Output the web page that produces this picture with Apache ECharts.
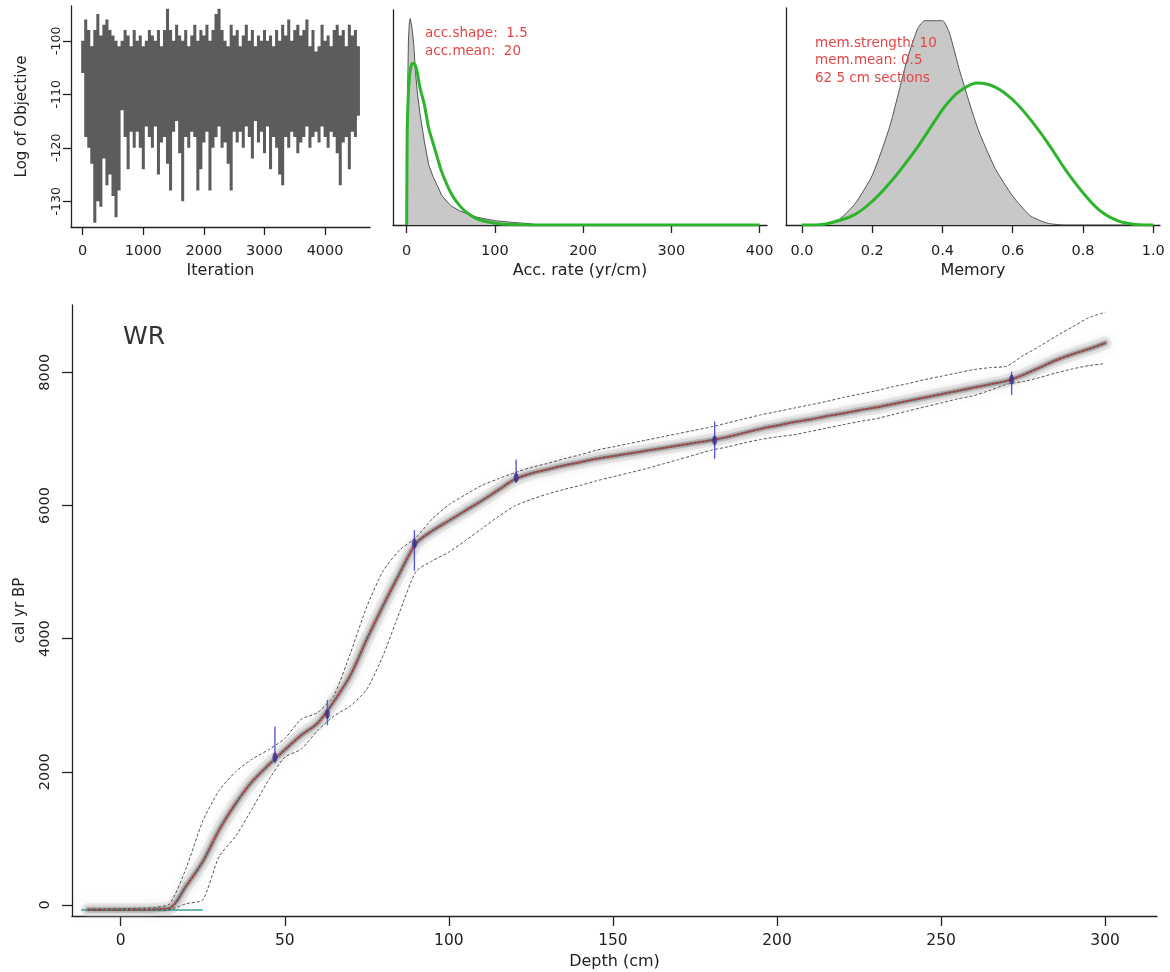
<!DOCTYPE html>
<html><head><meta charset="utf-8">
<script src="https://cdn.jsdelivr.net/npm/echarts@6/dist/echarts.min.js"></script>
<style>html,body{margin:0;padding:0;background:#fff}#c{width:1170px;height:972px}</style>
</head><body><div id="c"></div>
<script>
// ---------- Panel 1: MCMC trace (Log of Objective), binned by 50 iterations ----------
const traceIter = [0,50,100,150,200,250,300,350,400,450,500,550,600,650,700,750,800,850,900,950,1000,1050,1100,1150,1200,1250,1300,1350,1400,1450,1500,1550,1600,1650,1700,1750,1800,1850,1900,1950,2000,2050,2100,2150,2200,2250,2300,2350,2400,2450,2500,2550,2600,2650,2700,2750,2800,2850,2900,2950,3000,3050,3100,3150,3200,3250,3300,3350,3400,3450,3500,3550,3600,3650,3700,3750,3800,3850,3900,3950,4000,4050,4100,4150,4200,4250,4300,4350,4400,4450,4500,4550];
const traceHigh = [-100,-96,-98,-101,-98,-95,-99,-97,-96,-98,-99,-100,-101,-100,-98,-99,-101,-98,-100,-99,-101,-100,-98,-99,-100,-98,-101,-98,-94,-98,-100,-97,-99,-100,-98,-101,-99,-97,-100,-98,-99,-97,-100,-98,-95,-94,-98,-100,-101,-97,-99,-98,-101,-99,-97,-100,-98,-101,-99,-100,-98,-100,-99,-101,-98,-100,-97,-99,-96,-100,-98,-97,-99,-98,-96,-101,-98,-102,-101,-97,-100,-99,-101,-98,-97,-99,-98,-101,-97,-99,-98,-101];
const traceLow = [-106,-118,-120,-123,-134,-130,-131,-122,-127,-125,-129,-133,-128,-113,-118,-124,-117,-120,-117,-120,-124,-116,-118,-120,-116,-125,-119,-118,-123,-128,-117,-115,-121,-130,-118,-120,-117,-118,-128,-124,-119,-117,-128,-120,-118,-116,-120,-119,-123,-128,-117,-119,-117,-120,-116,-118,-122,-115,-119,-117,-121,-116,-124,-118,-120,-125,-127,-118,-120,-117,-118,-121,-119,-118,-116,-120,-118,-117,-119,-116,-118,-120,-117,-118,-121,-127,-119,-118,-124,-117,-118,-114];
const iterTicks = [0,1000,2000,3000,4000];
const objTicks = [-130,-120,-110,-100];

// ---------- Panel 2: accumulation rate ----------
const accRate = [0,0.5,1,2,3,4,6,8,10,12,15,20,25,30,35,40,50,60,70,80,100,120,140,150,200,300,400];
const accPosterior = [0,0.020,0.030,0.043,0.047,0.048,0.046,0.042,0.0355,0.031,0.026,0.0195,0.014,0.0112,0.009,0.0068,0.0045,0.0033,0.0025,0.0018,0.001,0.0006,0.0003,0,0,0,0];
const accPrior = [0,0.020,0.025,0.031,0.034,0.036,0.0375,0.0376,0.037,0.0355,0.032,0.028,0.0225,0.019,0.0155,0.0122,0.0075,0.0045,0.0026,0.0014,0.0004,0.0001,0,0,0,0,0];
const accTicks = [0,100,200,300,400];

// ---------- Panel 3: memory ----------
const memory = [0,0.05,0.1,0.15,0.2,0.25,0.3,0.33,0.35,0.4,0.42,0.45,0.5,0.55,0.6,0.65,0.7,0.75,0.8,0.85,0.9,0.95,1.0];
const memPosterior = [0,0,0.07,0.36,0.86,1.71,2.88,3.41,3.54,3.54,3.32,2.65,1.68,0.98,0.5,0.16,0.03,0,0,0,0,0,0];
const memPrior = [0,0.005,0.07,0.18,0.41,0.73,1.11,1.36,1.54,2.0,2.15,2.32,2.46,2.39,2.17,1.83,1.42,0.96,0.56,0.24,0.07,0.01,0];
const memTicks = [0,0.2,0.4,0.6,0.8,1.0];

// ---------- Main panel: age-depth model ----------
const depth = [-10,-5,0,5,10,15,20,25,30,35,40,45,50,55,60,65,70,75,80,85,90,95,100,105,110,115,120,125,130,135,140,145,150,155,160,165,170,175,180,185,190,195,200,205,210,215,220,225,230,235,240,245,250,255,260,265,270,275,280,285,290,295,300];
const ageMean = [-72,-72,-72,-70,-66,-45,290,650,1130,1520,1850,2100,2330,2550,2730,3060,3450,3990,4500,4980,5430,5620,5770,5920,6070,6230,6390,6480,6540,6600,6650,6700,6740,6780,6820,6860,6900,6940,6980,7030,7090,7150,7200,7250,7290,7340,7380,7430,7470,7520,7570,7620,7670,7720,7770,7820,7870,7960,8070,8180,8270,8350,8440];
const ageUpper = [-62,-58,-55,-50,-40,20,560,1260,1720,2000,2190,2330,2500,2790,2890,3150,3780,4480,5020,5330,5520,5800,6010,6160,6300,6400,6490,6570,6630,6700,6760,6830,6880,6930,6980,7030,7080,7130,7180,7240,7300,7360,7410,7460,7510,7560,7620,7670,7720,7780,7830,7890,7940,7990,8040,8070,8090,8250,8390,8540,8680,8820,8900];
const ageLower = [-82,-82,-82,-82,-80,-70,20,75,730,1030,1440,1870,2220,2340,2620,2840,2990,3240,3750,4400,5010,5170,5300,5470,5650,5830,5990,6090,6170,6240,6300,6370,6430,6490,6550,6620,6690,6760,6830,6880,6940,6990,7030,7060,7110,7160,7210,7260,7300,7360,7420,7480,7540,7600,7650,7730,7820,7860,7920,7990,8050,8100,8130];
const dateDepth = [47,63,89.5,120.5,181,271.5];
const dateAge = [2220,2870,5430,6420,6980,7890];
const dateMin = [2130,2700,5020,6340,6700,7660];
const dateMax = [2680,3080,5630,6690,7260,8010];
const surfaceDepth = [-12,25];
const surfaceAge = [-75,-75];
const depthTicks = [0,50,100,150,200,250,300];
const ageTicks = [0,2000,4000,6000,8000];

const zip = (xs, ys) => xs.map((x, i) => [x, ys[i]]);
const FONT = 'DejaVu Sans';
const AX = {color:'#222', width:1.3};
const TXT = '#222';
const plain = v => String(v);

function xAx(gi, min, max, ticks, opt) {
  return Object.assign({
    type:'value', gridIndex:gi, min:min, max:max,
    splitLine:{show:false},
    axisLine:{show:true, onZero:false, lineStyle:AX},
    axisTick:{show:true, length:8, customValues:ticks, lineStyle:AX},
    axisLabel:{show:true, customValues:ticks, fontFamily:FONT, fontSize:14.5, color:TXT, margin:17, formatter:plain},
    nameLocation:'middle', nameTextStyle:{fontFamily:FONT, fontSize:16, color:TXT}
  }, opt || {});
}
function yAx(gi, min, max, opt) {
  return Object.assign({
    type:'value', gridIndex:gi, min:min, max:max,
    splitLine:{show:false},
    axisLine:{show:true, onZero:false, lineStyle:AX},
    axisTick:{show:false}, axisLabel:{show:false}
  }, opt || {});
}

const option = {
  animation:false,
  backgroundColor:'#fff',
  grid:[
    {left:71, top:6, width:299, height:221, containLabel:false, outerBoundsMode:'none'},
    {left:393, top:10, width:374, height:215, containLabel:false, outerBoundsMode:'none'},
    {left:786, top:8, width:374, height:217, containLabel:false, outerBoundsMode:'none'},
    {left:72, top:305, width:1085, height:611, containLabel:false, outerBoundsMode:'none'}
  ],
  xAxis:[
    xAx(0, -193, 4741, iterTicks, {name:'Iteration', nameGap:36}),
    xAx(1, -15.5, 408.4, accTicks, {name:'Acc. rate (yr/cm)', nameGap:38, axisLabel:{customValues:accTicks, fontFamily:FONT, fontSize:14.5, color:TXT, margin:19, formatter:plain}}),
    xAx(2, -0.0455, 1.0193, memTicks, {name:'Memory', nameGap:38, axisLabel:{customValues:memTicks, fontFamily:FONT, fontSize:14.5, color:TXT, margin:19, formatter:v=>Number(v).toFixed(1)}}),
    xAx(3, -14.84, 315.8, depthTicks, {name:'Depth (cm)', nameGap:34, axisTick:{show:true, length:10, customValues:depthTicks, lineStyle:AX},
      axisLabel:{customValues:depthTicks, fontFamily:FONT, fontSize:15.5, color:TXT, margin:17, formatter:plain}, nameTextStyle:{fontFamily:FONT, fontSize:16, color:TXT}})
  ],
  yAxis:[
    yAx(0, -134.8, -93.5, {axisTick:{show:true, length:8, customValues:objTicks, lineStyle:AX},
      axisLabel:{show:true, customValues:objTicks, rotate:90, fontFamily:FONT, fontSize:12.5, color:TXT, margin:8, formatter:plain},
      name:'Log of Objective', nameLocation:'middle', nameGap:41, nameRotate:90, nameTextStyle:{fontFamily:FONT, fontSize:15, color:TXT}}),
    yAx(1, 0, 0.05),
    yAx(2, 0, 3.76),
    yAx(3, -165, 9010, {axisTick:{show:true, length:10, customValues:ageTicks, lineStyle:AX},
      axisLabel:{show:true, customValues:ageTicks, rotate:90, fontFamily:FONT, fontSize:14.5, color:TXT, margin:19, formatter:plain},
      name:'cal yr BP', nameLocation:'middle', nameGap:44, nameRotate:90, nameTextStyle:{fontFamily:FONT, fontSize:15, color:TXT}})
  ],
  series:[
    // trace: one filled polygon between the per-bin highs and lows (stepped), through the axis scales
    {type:'custom', xAxisIndex:0, yAxisIndex:0, z:2,
     data: [[traceIter[0], traceHigh[0]]],
     renderItem:(params, api)=>{
       const top = [], bottom = [];
       traceIter.forEach((t, i) => {
         top.push(api.coord([t - 25, traceHigh[i]]));
         top.push(api.coord([t + 25, traceHigh[i]]));
         bottom.push(api.coord([t - 25, traceLow[i]]));
         bottom.push(api.coord([t + 25, traceLow[i]]));
       });
       const pts = top.concat(bottom.reverse());
       return {type:'polygon', shape:{points:pts}, style:{fill:'#5c5c5c'}};
     }},
    // acc rate posterior
    {type:'line', xAxisIndex:1, yAxisIndex:1, data:zip(accRate, accPosterior), showSymbol:false, smooth:false,
     lineStyle:{color:'#555', width:1}, areaStyle:{color:'#c8c8c8', opacity:1}, z:2},
    {type:'line', xAxisIndex:1, yAxisIndex:1, data:zip(accRate, accPrior), showSymbol:false, smooth:0.3,
     lineStyle:{color:'#2cb52c', width:3}, z:3},
    // memory
    {type:'line', xAxisIndex:2, yAxisIndex:2, data:zip(memory, memPosterior), showSymbol:false, smooth:0.2,
     lineStyle:{color:'#555', width:1}, areaStyle:{color:'#c8c8c8', opacity:1}, z:2},
    {type:'line', xAxisIndex:2, yAxisIndex:2, data:zip(memory, memPrior), showSymbol:false, smooth:0.4,
     lineStyle:{color:'#2cb52c', width:3}, z:3},
    // main: grey ribbon around the mean
    {type:'line', xAxisIndex:3, yAxisIndex:3, data:zip(depth, ageMean), showSymbol:false, smooth:0.3, silent:true,
     lineStyle:{color:'rgba(215,212,212,0.45)', width:13, cap:'round', join:'round', shadowBlur:8, shadowColor:'rgba(200,195,195,0.6)'}, z:1},
    {type:'line', xAxisIndex:3, yAxisIndex:3, data:zip(depth, ageMean), showSymbol:false, smooth:0.3, silent:true,
     lineStyle:{color:'rgba(140,140,140,0.45)', width:6, cap:'round', join:'round', shadowBlur:4, shadowColor:'rgba(120,120,120,0.5)'}, z:1},
    {type:'line', xAxisIndex:3, yAxisIndex:3, data:zip(depth, ageMean), showSymbol:false, smooth:0.3, silent:true,
     lineStyle:{color:'rgba(60,50,50,0.5)', width:2.5, cap:'round', join:'round'}, z:1},
    // surface line
    {type:'line', xAxisIndex:3, yAxisIndex:3, data:zip(surfaceDepth, surfaceAge), showSymbol:false,
     lineStyle:{color:'#3a9e92', width:1.6}, z:2},
    // 95% ranges
    {type:'line', xAxisIndex:3, yAxisIndex:3, data:zip(depth, ageUpper), showSymbol:false, smooth:0.2,
     lineStyle:{color:'#555', width:1, type:[3,2]}, z:3},
    {type:'line', xAxisIndex:3, yAxisIndex:3, data:zip(depth, ageLower), showSymbol:false, smooth:0.2,
     lineStyle:{color:'#555', width:1, type:[3,2]}, z:3},
    // mean
    {type:'line', xAxisIndex:3, yAxisIndex:3, data:zip(depth, ageMean), showSymbol:false, smooth:0.3,
     lineStyle:{color:'#d42424', width:1.3, type:[2,2]}, z:4},
    // dates
    {type:'custom', xAxisIndex:3, yAxisIndex:3, z:5,
     data: dateDepth.map((d,i)=>[d, dateAge[i], dateMin[i], dateMax[i]]),
     encode:{x:0, y:[1,2,3]},
     renderItem:(params, api)=>{
       const d = api.value(0);
       const c = api.coord([d, api.value(1)]);
       const lo = api.coord([d, api.value(2)]);
       const hi = api.coord([d, api.value(3)]);
       return {type:'group', children:[
         {type:'line', shape:{x1:c[0], y1:lo[1], x2:c[0], y2:hi[1]}, style:{stroke:'#5a5ad0', lineWidth:1.4}},
         {type:'ellipse', shape:{cx:c[0], cy:c[1], rx:2.5, ry:5}, style:{fill:'rgba(55,40,130,0.75)'}}
       ]};
     }}
  ],
  graphic:[
    {type:'text', z:100, left:425, top:26, style:{text:'acc.shape:  1.5', fontFamily:FONT, fontSize:13.5, fill:'#e04848'}},
    {type:'text', z:100, left:425, top:44, style:{text:'acc.mean:  20', fontFamily:FONT, fontSize:13.5, fill:'#e04848'}},
    {type:'text', z:100, left:815, top:36, style:{text:'mem.strength: 10', fontFamily:FONT, fontSize:13.5, fill:'#e04848'}},
    {type:'text', z:100, left:815, top:53, style:{text:'mem.mean: 0.5', fontFamily:FONT, fontSize:13.5, fill:'#e04848'}},
    {type:'text', z:100, left:815, top:71, style:{text:'62 5 cm sections', fontFamily:FONT, fontSize:13.5, fill:'#e04848'}},
    {type:'text', z:100, left:123, top:325, style:{text:'WR', fontFamily:FONT, fontSize:25, fill:'#333'}}
  ]
};
const chart = echarts.init(document.getElementById('c'), null, {renderer:'canvas'});
chart.setOption(option);
</script></body></html>
